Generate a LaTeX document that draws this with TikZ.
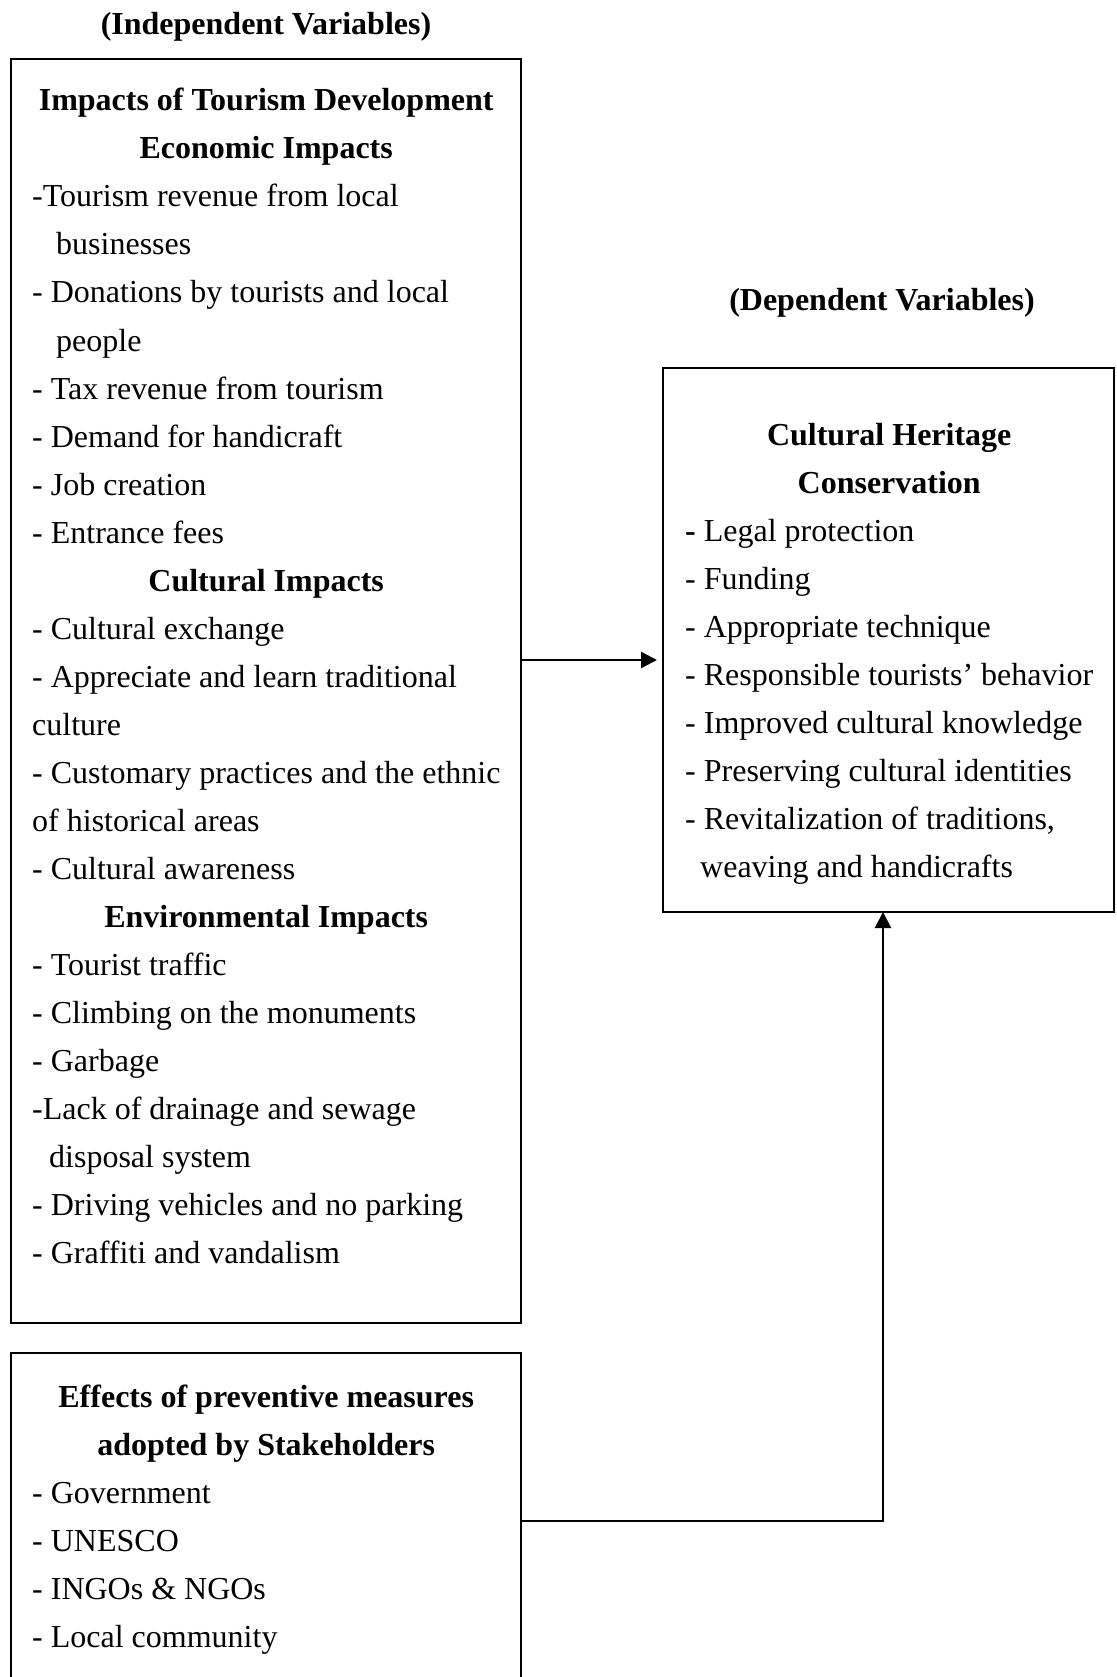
\documentclass[tikz,border=0pt]{standalone}
\usepackage{fontspec}
\setmainfont{Liberation Serif}
\usetikzlibrary{arrows.meta,positioning}
\newcommand{\hdline}[2][468pt]{\makebox[#1][c]{\textbf{#2}}}

\begin{document}
\begin{tikzpicture}[x=1pt,y=-1pt,font=\fontsize{32}{40}\selectfont]
      \tikzstyle{frame}=[draw,line width=2pt,outer sep=0pt,inner sep=0pt,anchor=north west]
      \tikzstyle{ln}=[inner sep=0pt,anchor=base west]
      \tikzstyle{ttl}=[inner sep=0pt,anchor=base,font=\fontsize{32}{40}\selectfont\bfseries]
      \tikzstyle{conn}=[line width=2.2pt,-{Triangle[length=16pt,width=16pt]}]
      \useasboundingbox (0,0) rectangle (1116,1677);
      \clip (0,0) rectangle (1116,1677);
      % titles
      \node[ttl] (ivtitle) at (266,35) {(Independent Variables)};
      \node[ttl] (dvtitle) at (882,310) {(Dependent Variables)};
      % boxes
      \node[frame,minimum width=510pt,minimum height=1264pt] (ivbox) at (11,59) {};
      \node[frame,minimum width=451pt,minimum height=544pt] (dvbox) at (663,368) {};
      \node[frame,minimum width=510pt,minimum height=336pt] (pmbox) at (11,1353) {};
      % box texts
      \foreach \t [count=\n from 0] in {
          \hdline{Impacts of Tourism Development},
          \hdline{Economic Impacts},
          -Tourism revenue from local,
          \hspace*{24pt}businesses,
          - Donations by tourists and local,
          \hspace*{24pt}people,
          - Tax revenue from tourism,
          - Demand for handicraft,
          - Job creation,
          - Entrance fees,
          \hdline{Cultural Impacts},
          - Cultural exchange,
          - Appreciate and learn traditional,
          culture,
          - Customary practices and the ethnic,
          of historical areas,
          - Cultural awareness,
          \hdline{Environmental Impacts},
          - Tourist traffic,
          - Climbing on the monuments,
          - Garbage,
          -Lack of drainage and sewage,
          \hspace*{17pt}disposal system,
          - Driving vehicles and no parking,
          - Graffiti and vandalism}
        \node[ln] (iv\n) at (32,{111+48*\n}) {\t};
      \foreach \t [count=\n from 0] in {
          \hdline[408pt]{Cultural Heritage},
          \hdline[408pt]{Conservation},
          \textbf{-} Legal protection,
          - Funding,
          - Appropriate technique,
          - Responsible tourists’ behavior,
          - Improved cultural knowledge,
          - Preserving cultural identities,
          {- Revitalization of traditions,},
          \hspace*{15pt}weaving and handicrafts}
        \node[ln] (dv\n) at (685,{445+48*\n}) {\t};
      \foreach \t [count=\n from 0] in {
          \hdline{Effects of preventive measures},
          \hdline{adopted by Stakeholders},
          - Government,
          - UNESCO,
          - INGOs \& NGOs,
          - Local community}
        \node[ln] (pm\n) at (32,{1407+48*\n}) {\t};
      % connectors
      \coordinate (ivout) at ([yshift=31pt]ivbox.east);
      \coordinate (dvin) at ([xshift=-5.5pt]dvbox.south);
      \draw[conn,shorten >=6pt] (ivout) -- (ivout -| dvbox.west);
      \draw[conn] (pmbox.east) -| (dvin);
    \end{tikzpicture}
\end{document}
